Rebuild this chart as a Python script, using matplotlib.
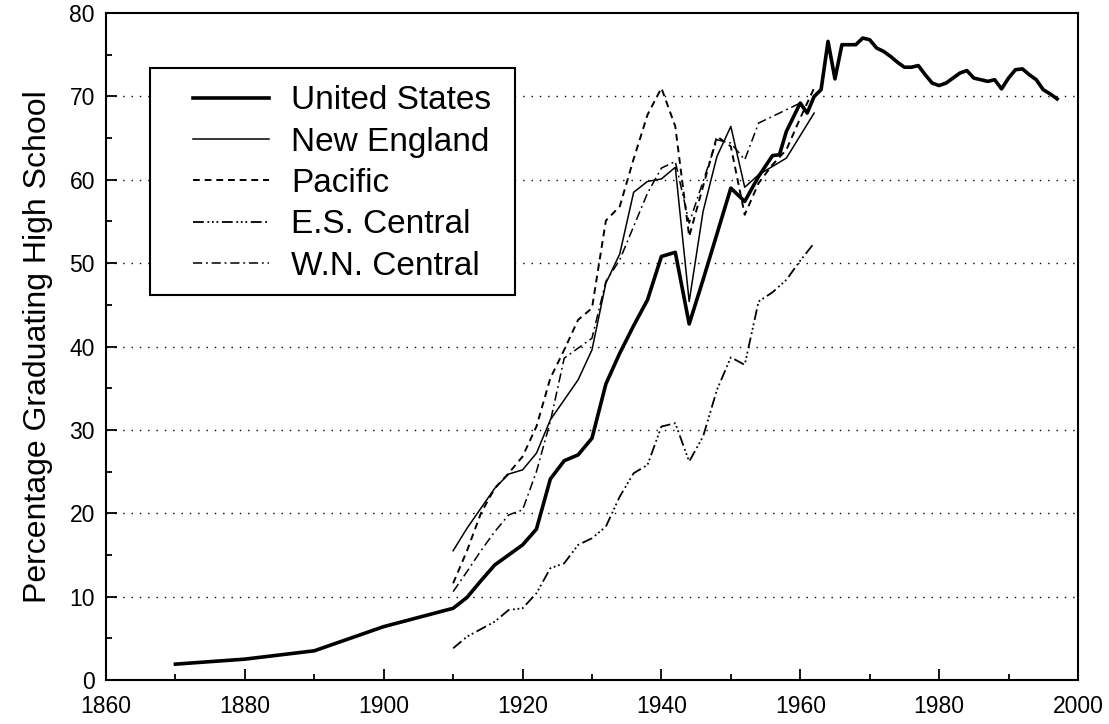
import matplotlib
matplotlib.use("Agg")
import matplotlib.pyplot as plt
from matplotlib.ticker import MultipleLocator
from matplotlib.patches import Rectangle

plt.rcParams['font.family'] = ['Liberation Sans', 'DejaVu Sans']

# United States
us_years = [1870, 1880, 1890, 1900, 1910, 1912, 1914, 1916, 1918, 1920, 1922, 1924,
            1926, 1928, 1930, 1932, 1934, 1936, 1938, 1940, 1942, 1944, 1946, 1948,
            1950, 1952, 1954, 1956, 1957, 1958, 1960, 1961, 1962, 1963, 1964, 1965,
            1966, 1967, 1968, 1969, 1970, 1971, 1972, 1973, 1974, 1975, 1976, 1977,
            1978, 1979, 1980, 1981, 1982, 1983, 1984, 1985, 1986, 1987, 1988, 1989,
            1990, 1991, 1992, 1993, 1994, 1995, 1996, 1997]
us_vals = [1.9, 2.5, 3.5, 6.4, 8.6, 9.9, 11.9, 13.8, 15.0, 16.2, 18.1, 24.1,
           26.3, 27.0, 29.0, 35.5, 39.2, 42.5, 45.6, 50.8, 51.3, 42.7, 48.0, 53.5,
           59.0, 57.4, 60.4, 62.9, 63.0, 65.8, 69.2, 68.0, 70.0, 70.8, 76.6, 72.1,
           76.2, 76.2, 76.2, 77.0, 76.8, 75.8, 75.4, 74.8, 74.1, 73.5, 73.5, 73.7,
           72.6, 71.6, 71.3, 71.6, 72.2, 72.8, 73.1, 72.2, 72.0, 71.8, 72.0, 70.9,
           72.2, 73.2, 73.3, 72.6, 72.0, 70.8, 70.3, 69.7]

# regional series
reg_years = [1910, 1912, 1914, 1916, 1918, 1920, 1922, 1924, 1926, 1928, 1930, 1932,
             1934, 1936, 1938, 1940, 1942, 1944, 1946, 1948, 1950, 1952, 1954, 1956,
             1958, 1960, 1962]
new_england = [15.5, 18.2, 20.6, 23.0, 24.7, 25.2, 27.2, 31.2, 33.6, 36.0, 39.6, 47.6,
               51.1, 58.5, 59.8, 60.1, 61.5, 45.4, 56.2, 62.8, 66.4, 59.1, 60.6, 61.6,
               62.6, 65.3, 68.0]
pacific = [11.6, 15.5, 20.0, 23.0, 24.8, 26.8, 30.4, 36.2, 39.6, 43.2, 44.6, 55.1,
           56.8, 62.5, 67.8, 71.0, 66.4, 53.2, 59.2, 65.2, 64.0, 55.8, 59.6, 61.8,
           63.6, 67.4, 71.0]
es_central = [3.8, 5.2, 6.1, 7.0, 8.4, 8.6, 10.4, 13.4, 14.0, 16.2, 17.0, 18.4,
              22.0, 24.8, 25.8, 30.4, 30.8, 26.2, 29.2, 34.8, 38.7, 37.8, 45.4, 46.5,
              48.0, 50.3, 52.4]
wn_years = reg_years[:-1]
wn_central = [10.6, 13.0, 15.5, 17.8, 19.8, 20.4, 25.0, 31.0, 38.6, 39.8, 41.0, 47.8,
              50.4, 54.4, 58.4, 61.4, 62.2, 54.8, 59.8, 64.8, 64.4, 62.4, 66.8, 67.6,
              68.4, 69.2]

fig = plt.figure(figsize=(11.09, 7.24), dpi=100)
ax = fig.add_axes([0.0956, 0.0608, 0.8764, 0.9212])

ax.plot(us_years, us_vals, color='k', lw=2.6, label="United States")
ax.plot(reg_years, new_england, color='k', lw=1.1, label="New England")
ax.plot(reg_years, pacific, color='k', lw=1.4, linestyle=(0, (3.5, 2.5)), label="Pacific")
ax.plot(reg_years, es_central, color='k', lw=1.3,
        linestyle=(0, (6, 2, 1, 1.5, 1, 1.5, 1, 2)), label="E.S. Central")
ax.plot(wn_years, wn_central, color='k', lw=1.1,
        linestyle=(0, (6, 2.5, 1.2, 2.5)), label="W.N. Central")

# dotted grid
for g in range(10, 80, 10):
    ax.axhline(g, color='k', lw=1.0, linestyle=(0, (1, 5)), zorder=0)

ax.set_xlim(1860, 2000)
ax.set_ylim(0, 80)
ax.xaxis.set_major_locator(MultipleLocator(20))
ax.xaxis.set_minor_locator(MultipleLocator(10))
ax.yaxis.set_major_locator(MultipleLocator(10))
ax.yaxis.set_minor_locator(MultipleLocator(5))
ax.tick_params(which='both', direction='in', labelsize=16.5, width=1.3)
ax.tick_params(axis='x', pad=11)
ax.tick_params(axis='y', pad=8)
ax.tick_params(which='major', length=8)
ax.tick_params(which='minor', length=4)
for s in ax.spines.values():
    s.set_linewidth(1.5)

ax.set_ylabel("Percentage Graduating High School", fontsize=23, labelpad=12)

# legend box drawn separately so the inner padding matches
ax.add_patch(Rectangle((0.0453, 0.5772), 0.3755, 0.3403, transform=ax.transAxes,
                       facecolor='white', edgecolor='k', lw=1.5, zorder=5))
leg = ax.legend(loc='upper left', bbox_to_anchor=(0.0895, 0.8915), fontsize=24,
                frameon=False, handlelength=2.27, labelspacing=0.31, borderpad=0,
                handletextpad=0.68, borderaxespad=0)
leg.set_zorder(6)

fig.savefig("out.png", dpi=100)
